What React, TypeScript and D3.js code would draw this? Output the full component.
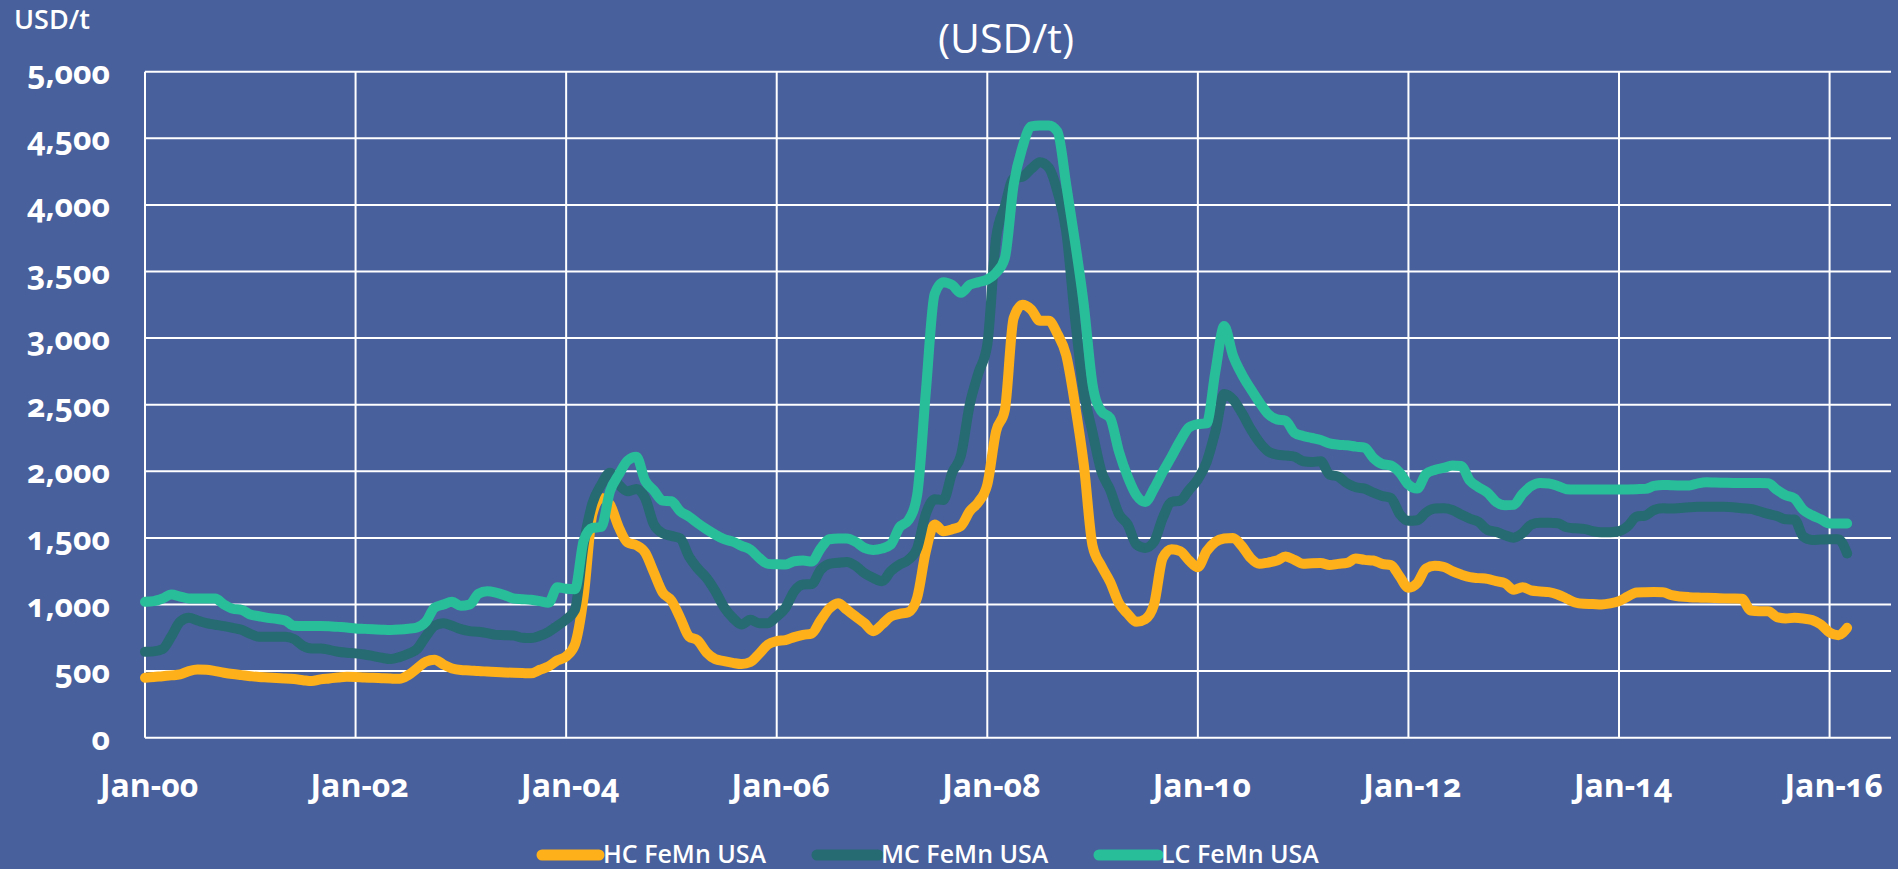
import React, { useEffect } from 'react';
import * as d3 from 'd3';

// Monthly prices, Jan-2000 .. Mar-2016 (USD/t)
const hcFeMn = [
  450, 455, 462, 468, 475, 500, 512, 510, 500, 488, 478, 470,
  462, 455, 452, 448, 445, 440, 432, 425, 438, 445, 452, 458,
  456, 452, 450, 447, 444, 442, 470, 520, 570, 585, 550, 520,
  508, 505, 500, 497, 494, 490, 487, 485, 483, 510, 535, 580,
  610, 700, 1060, 1680, 1800, 1750, 1580, 1465, 1445, 1390, 1240, 1090,
  1030, 900, 760, 730, 640, 590, 575, 562, 553, 568, 630, 700,
  725, 733, 755, 772, 783, 880, 970, 1010, 960, 910, 860, 800,
  850, 910, 930, 942, 1050, 1400, 1600, 1550, 1565, 1590, 1700, 1770,
  1900, 2300, 2460, 3150, 3250, 3215, 3130, 3130, 3030, 2870, 2500, 2050,
  1440, 1290, 1170, 1010, 930, 870, 890, 1000, 1350, 1415, 1400, 1330,
  1280, 1400, 1470, 1495, 1500, 1440, 1350, 1305, 1315, 1330, 1360, 1335,
  1305, 1310, 1312, 1296, 1305, 1312, 1345, 1335, 1330, 1305, 1296, 1210,
  1125, 1160, 1270, 1290, 1283, 1250, 1225, 1205, 1198, 1192, 1175, 1160,
  1110, 1130, 1105, 1098, 1093, 1075, 1045, 1015, 1005, 1003, 1000, 1008,
  1025, 1060, 1090, 1092, 1093, 1092, 1070, 1060, 1055, 1052, 1050, 1048,
  1046, 1045, 1043, 955, 950, 950, 905, 895, 900, 895, 883, 850,
  790, 770, 825,
];

const mcFeMn = [
  645, 648, 665, 760, 870, 900, 880, 860, 848, 838, 825, 810,
  780, 758, 758, 758, 758, 740, 690, 670, 670, 660, 645, 638,
  633, 625, 613, 600, 590, 605, 630, 665, 760, 840, 860, 840,
  815, 800, 795, 785, 772, 770, 768, 750, 748, 765, 795, 840,
  888, 960, 1450, 1760, 1900, 1990, 1900, 1850, 1868, 1800, 1600, 1535,
  1515, 1496, 1360, 1270, 1200, 1100, 980, 900, 850, 885, 860, 860,
  910, 975, 1100, 1150, 1154, 1260, 1305, 1313, 1320, 1290, 1235, 1200,
  1175, 1250, 1300, 1335, 1420, 1680, 1790, 1785, 1990, 2120, 2500, 2740,
  2950, 3750, 3990, 4200, 4211, 4270, 4320, 4280, 4100, 3800, 3150, 2600,
  2290, 2000, 1860, 1680, 1600, 1450, 1425, 1470, 1650, 1770, 1780, 1860,
  1940, 2070, 2300, 2580, 2540, 2440, 2320, 2220, 2150, 2125, 2118, 2110,
  2075, 2070, 2075, 1975, 1960, 1910, 1880, 1870, 1840, 1815, 1800, 1680,
  1628, 1633, 1690, 1720, 1722, 1710, 1675, 1645, 1620, 1560, 1545, 1520,
  1502, 1535, 1600, 1613, 1613, 1610, 1580, 1572, 1568, 1550, 1543, 1543,
  1550, 1588, 1660, 1668, 1710, 1722, 1720, 1725, 1730, 1733, 1733, 1733,
  1733, 1730, 1722, 1718, 1700, 1680, 1665, 1640, 1638, 1510, 1485, 1488,
  1490, 1490, 1383,
];

const lcFeMn = [
  1020, 1025, 1045, 1075, 1060, 1045, 1045, 1045, 1045, 1000, 968, 960,
  925, 912, 900, 892, 880, 840, 838, 838, 838, 836, 832, 828,
  820, 817, 814, 811, 809, 812, 818, 828, 870, 975, 1000, 1020,
  990, 1000, 1080, 1100, 1090, 1070, 1045, 1040, 1035, 1025, 1013, 1130,
  1118, 1115, 1480, 1575, 1582, 1850, 1975, 2080, 2110, 1930, 1855, 1780,
  1775, 1700, 1660, 1610, 1565, 1525, 1490, 1472, 1440, 1412, 1350, 1305,
  1302, 1300, 1325, 1330, 1322, 1420, 1490, 1496, 1496, 1470, 1425, 1410,
  1420, 1450, 1580, 1632, 1820, 2600, 3331, 3420, 3398, 3340, 3400, 3420,
  3440, 3490, 3600, 4150, 4430, 4590, 4596, 4596, 4550, 4150, 3722, 3250,
  2650, 2451, 2400, 2150, 1960, 1820, 1770, 1870, 1995, 2110, 2230, 2330,
  2354, 2360, 2750, 3090, 2870, 2730, 2620, 2520, 2430, 2390, 2380, 2290,
  2265, 2250, 2235, 2210, 2200, 2195, 2185, 2178, 2100, 2055, 2043, 1990,
  1900, 1870, 1980, 2010, 2025, 2043, 2040, 1930, 1880, 1840, 1770, 1745,
  1748, 1830, 1890, 1913, 1908, 1890, 1866, 1863, 1863, 1863, 1863, 1863,
  1863, 1864, 1866, 1868, 1890, 1898, 1895, 1894, 1893, 1910, 1918, 1915,
  1914, 1913, 1913, 1913, 1913, 1910, 1860, 1820, 1795, 1710, 1670, 1640,
  1608, 1608, 1608,
];

const seriesNames = ['HC FeMn USA', 'MC FeMn USA', 'LC FeMn USA'];
const seriesColors = ['#fdb01a', '#266a72', '#29be9a'];
const yTicks = [0, 500, 1000, 1500, 2000, 2500, 3000, 3500, 4000, 4500, 5000];
const xTickMonths = [0, 24, 48, 72, 96, 120, 144, 168, 192];
const xTickLabels = ['Jan-00', 'Jan-02', 'Jan-04', 'Jan-06', 'Jan-08', 'Jan-10', 'Jan-12', 'Jan-14', 'Jan-16'];

const W = 1898;
const H = 869;
const BG = '#48609c';
const FONT = '"Open Sans", "Noto Sans", sans-serif';

export default function App() {
  useEffect(() => {
    document.body.style.margin = '0';
  }, []);

  const x = d3.scaleLinear().domain([0, 199]).range([145, 1891]);
  const y = d3.scaleLinear().domain([0, 5000]).range([737.7, 71.7]);
  const line = d3
    .line<number>()
    .x((_, i) => x(i))
    .y((d) => y(d))
    .curve(d3.curveMonotoneX);

  const series = [hcFeMn, mcFeMn, lcFeMn];
  const fmt = d3.format(',');
  const legendX = [[542, 599, 603], [817, 878, 881], [1099, 1158, 1161]];

  return (
    <svg width={W} height={H} style={{ display: 'block', fontFamily: FONT }}>
      <rect x={0} y={0} width={W} height={H} fill={BG} />
      <text x={14} y={29} fill="#fff" fontSize={27} fontWeight={600}>USD/t</text>
      <text x={1006} y={53} fill="#fff" fontSize={41} textAnchor="middle">(USD/t)</text>

      {yTicks.map((t) => (
        <line key={'h' + t} x1={x(0)} x2={x(199)} y1={y(t)} y2={y(t)} stroke="#fff" strokeWidth={2} />
      ))}
      {xTickMonths.map((m) => (
        <line key={'v' + m} x1={x(m)} x2={x(m)} y1={y(5000)} y2={y(0)} stroke="#fff" strokeWidth={2} />
      ))}

      {yTicks.map((t) => (
        <text key={'yl' + t} x={110} y={y(t) + 12} fill="#fff" fontSize={32} fontWeight={700} textAnchor="end"
          style={{ fontVariantNumeric: 'oldstyle-nums' }}>
          {fmt(t)}
        </text>
      ))}
      {xTickMonths.map((m, i) => (
        <text key={'xl' + m} x={x(m) + 4} y={797} fill="#fff" fontSize={32} fontWeight={700} textAnchor="middle"
          style={{ fontVariantNumeric: 'oldstyle-nums' }}>
          {xTickLabels[i]}
        </text>
      ))}

      {series.map((s, i) => (
        <path key={'s' + i} d={line(s) || ''} fill="none" stroke={seriesColors[i]} strokeWidth={10}
          strokeLinejoin="round" strokeLinecap="round" />
      ))}

      {seriesNames.map((n, i) => (
        <g key={'lg' + i}>
          <line x1={legendX[i][0]} x2={legendX[i][1]} y1={855} y2={855} stroke={seriesColors[i]} strokeWidth={11}
            strokeLinecap="round" />
          <text x={legendX[i][2]} y={863} fill="#fff" fontSize={25} fontWeight={600}>{n}</text>
        </g>
      ))}
    </svg>
  );
}
